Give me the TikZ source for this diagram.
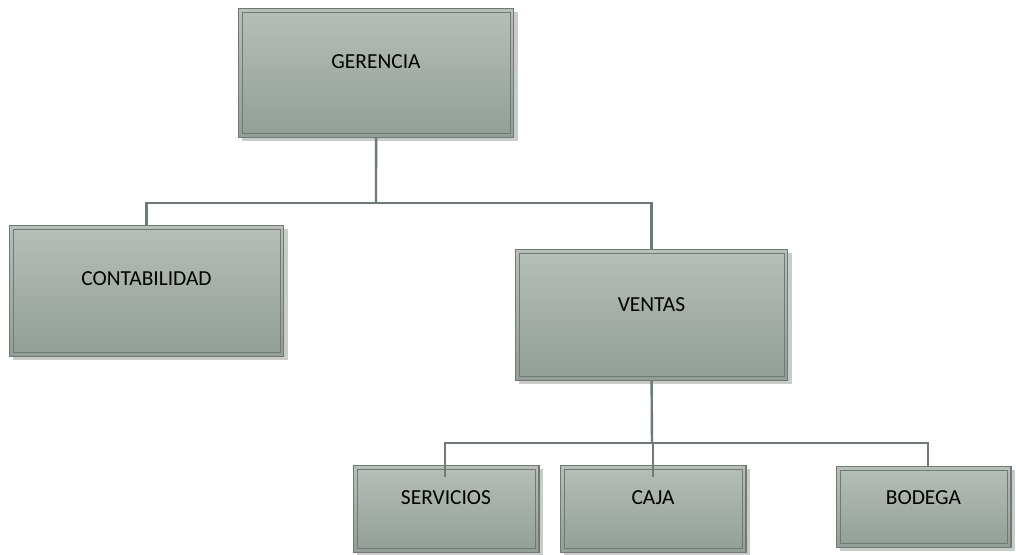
\documentclass[tikz,border=0pt]{standalone}
\usepackage{fontspec}
\setmainfont{Carlito}
\definecolor{boxtop}{HTML}{B6BFB8}
\definecolor{boxbot}{HTML}{929E96}
\definecolor{boxline}{HTML}{6E7A72}
\definecolor{shadowc}{HTML}{C9CBCA}
\definecolor{linkc}{HTML}{6E7B72}
\tikzset{
  orgshadow/.style={fill=shadowc,draw=none},
  orgbox/.style={draw=boxline,line width=1.2bp,top color=boxtop,bottom color=boxbot,inner sep=0pt},
  orginner/.style={draw=boxline,line width=0.9bp},
  orgtext/.style={font=\fontsize{21.5}{24}\selectfont,text=black,inner sep=0pt},
  link/.style={draw=linkc,line width=2.4bp}
}
% #1 name, #2 x1, #3 y1, #4 x2, #5 y2, #6 text y, #7 text
\newcommand\orgunit[7]{%
  \fill[orgshadow] (#2+4,#3+4) rectangle (#4+4,#5+4);
  \node[orgbox,minimum width=#4-#2,minimum height=#5-#3,anchor=north west] (#1) at (#2,#3) {};
  \draw[orginner] ([xshift=4bp,yshift=-4bp]#1.north west) rectangle ([xshift=-4bp,yshift=4bp]#1.south east);
  \node[orgtext] (#1t) at ({(#2+#4)/2},#6) {#7};
}
\begin{document}
\begin{tikzpicture}[x=1bp,y=-1bp]
\useasboundingbox[fill=white] (0,0) rectangle (1016,555);
\orgunit{ger}{238}{8}{514}{137}{62}{GERENCIA}
\orgunit{con}{9}{225}{284}{356}{279}{CONTABILIDAD}
\orgunit{ven}{515}{249}{788}{380}{305}{VENTAS}
\orgunit{ser}{353}{465}{539}{552}{498}{SERVICIOS}
\orgunit{caj}{560}{465}{746}{552}{498}{CAJA}
\orgunit{bod}{836}{466}{1011}{547}{498}{BODEGA}
% connectors
\coordinate (j1) at (376,203);
\coordinate (j2) at (652,443);
\coordinate (serin) at (445,477);
\coordinate (cajin) at (653,477);
\draw[link] (ger.south) -- (j1);
\draw[link] (j1) -| (con.north);
\draw[link] (j1) -| (ven.north);
\draw[link] (ven.south) -- (j2);
\draw[link] (j2) -| (serin);
\draw[link] (j2) -| (cajin);
\draw[link] (j2) -| ([xshift=4.5bp]bod.north);
\end{tikzpicture}
\end{document}
